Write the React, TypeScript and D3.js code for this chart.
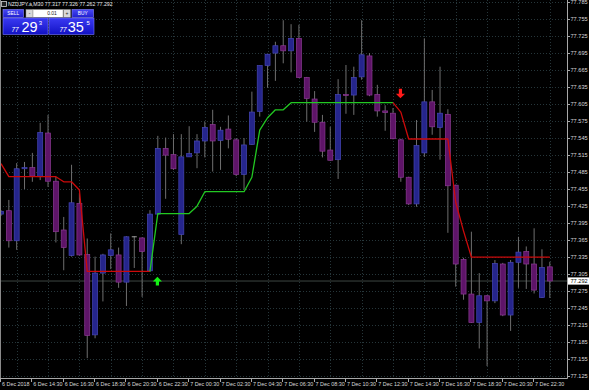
import React from 'react';
import * as d3 from 'd3';

// ---- Data (NZDJPY M30, 6 Dec 12:30 .. 7 Dec 23:30) ----
const opens = [77.410, 77.416, 77.363, 77.490, 77.492, 77.476, 77.553, 77.468, 77.382, 77.337, 77.429, 77.339, 77.197, 77.306, 77.337, 77.338, 77.290, 77.370, 77.368, 77.310, 77.410, 77.526, 77.515, 77.374, 77.511, 77.518, 77.539, 77.568, 77.540, 77.560, 77.541, 77.480, 77.533, 77.591, 77.672, 77.694, 77.707, 77.698, 77.720, 77.651, 77.613, 77.572, 77.523, 77.506, 77.621, 77.620, 77.652, 77.689, 77.621, 77.592, 77.588, 77.541, 77.475, 77.428, 77.518, 77.608, 77.563, 77.586, 77.461, 77.330, 77.269, 77.219, 77.266, 77.257, 77.322, 77.232, 77.325, 77.344, 77.322, 77.263, 77.317];
const highs = [77.417, 77.435, 77.500, 77.502, 77.518, 77.571, 77.585, 77.476, 77.405, 77.497, 77.447, 77.367, 77.335, 77.340, 77.376, 77.351, 77.371, 77.371, 77.369, 77.417, 77.548, 77.545, 77.551, 77.551, 77.565, 77.551, 77.573, 77.594, 77.564, 77.584, 77.544, 77.544, 77.626, 77.672, 77.692, 77.714, 77.752, 77.745, 77.744, 77.652, 77.627, 77.585, 77.564, 77.648, 77.673, 77.670, 77.752, 77.694, 77.638, 77.602, 77.597, 77.543, 77.476, 77.576, 77.720, 77.629, 77.670, 77.595, 77.462, 77.333, 77.379, 77.306, 77.267, 77.329, 77.324, 77.329, 77.370, 77.353, 77.385, 77.348, 77.326];
const lows = [77.407, 77.351, 77.347, 77.454, 77.467, 77.470, 77.458, 77.360, 77.311, 77.335, 77.337, 77.156, 77.191, 77.256, 77.313, 77.280, 77.248, 77.315, 77.264, 77.308, 77.409, 77.437, 77.488, 77.357, 77.511, 77.491, 77.510, 77.485, 77.488, 77.526, 77.477, 77.453, 77.532, 77.582, 77.633, 77.645, 77.676, 77.660, 77.650, 77.573, 77.555, 77.510, 77.504, 77.472, 77.587, 77.585, 77.647, 77.618, 77.582, 77.557, 77.542, 77.467, 77.426, 77.423, 77.511, 77.550, 77.506, 77.377, 77.282, 77.259, 77.218, 77.173, 77.142, 77.253, 77.230, 77.204, 77.280, 77.278, 77.270, 77.262, 77.262];
const closes = [77.415, 77.363, 77.490, 77.492, 77.477, 77.554, 77.468, 77.379, 77.351, 77.430, 77.338, 77.196, 77.306, 77.338, 77.347, 77.290, 77.370, 77.370, 77.344, 77.410, 77.526, 77.514, 77.490, 77.511, 77.517, 77.539, 77.563, 77.539, 77.558, 77.542, 77.480, 77.532, 77.590, 77.672, 77.692, 77.707, 77.698, 77.720, 77.651, 77.614, 77.572, 77.521, 77.505, 77.621, 77.619, 77.651, 77.691, 77.620, 77.592, 77.589, 77.543, 77.475, 77.428, 77.531, 77.608, 77.564, 77.588, 77.460, 77.322, 77.269, 77.219, 77.266, 77.257, 77.323, 77.232, 77.325, 77.343, 77.322, 77.276, 77.316, 77.292];

// trailing-stop indicator value and trend (1 = up / green, -1 = down / red)
const stopLine = [77.499, 77.476, 77.476, 77.476, 77.476, 77.476, 77.476, 77.476, 77.467, 77.467, 77.4525, 77.309, 77.309, 77.309, 77.309, 77.309, 77.309, 77.309, 77.309, 77.309, 77.411, 77.411, 77.411, 77.411, 77.411, 77.424, 77.4495, 77.4495, 77.4495, 77.4495, 77.4495, 77.4495, 77.475, 77.558, 77.580, 77.594, 77.594, 77.6065, 77.6065, 77.6065, 77.6065, 77.6065, 77.6065, 77.6065, 77.6065, 77.6065, 77.6065, 77.6065, 77.6065, 77.6065, 77.6065, 77.590, 77.5425, 77.5425, 77.5425, 77.5425, 77.5425, 77.5425, 77.431, 77.380, 77.334, 77.334, 77.334, 77.334, 77.334, 77.334, 77.334, 77.334, 77.334, 77.334, 77.334];
const trend = [-1, -1, -1, -1, -1, -1, -1, -1, -1, -1, -1, -1, -1, -1, -1, -1, -1, -1, -1, -1, 1, 1, 1, 1, 1, 1, 1, 1, 1, 1, 1, 1, 1, 1, 1, 1, 1, 1, 1, 1, 1, 1, 1, 1, 1, 1, 1, 1, 1, 1, 1, -1, -1, -1, -1, -1, -1, -1, -1, -1, -1, -1, -1, -1, -1, -1, -1, -1, -1, -1, -1];

const timeLabelIndex = [0, 4, 8, 12, 16, 20, 24, 28, 32, 36, 40, 44, 48, 52, 56, 60, 64, 68];
const timeLabels = ["6 Dec 2018", "6 Dec 14:30", "6 Dec 16:30", "6 Dec 18:30", "6 Dec 20:30", "6 Dec 22:30", "7 Dec 00:30", "7 Dec 02:30", "7 Dec 04:30", "7 Dec 06:30", "7 Dec 08:30", "7 Dec 10:30", "7 Dec 12:30", "7 Dec 14:30", "7 Dec 16:30", "7 Dec 18:30", "7 Dec 20:30", "7 Dec 22:30"];
const gridIndex = [2, 6, 10, 14, 18, 22, 26, 30, 34, 38, 42, 46, 50, 54, 58, 62, 66, 70];
const priceTicks = [77.785, 77.755, 77.725, 77.695, 77.665, 77.635, 77.605, 77.575, 77.545, 77.515, 77.485, 77.455, 77.425, 77.395, 77.365, 77.335, 77.305, 77.275, 77.245, 77.215, 77.185, 77.155, 77.125];
const bidPrice = 77.292;
const headerText = "NZDJPY.a,M30  77.317 77.326 77.262 77.292";
const sellParts = ["77", "29", "3"];
const buyParts = ["77", "35", "5"];
const lotText = "0.01";

const FONT = "'Liberation Sans', Arial, sans-serif";

export default function App() {
  const W = 589, H = 390;
  const plotRight = 567, plotBottom = 378;
  const x = d3.scaleLinear().domain([0, 70]).range([1, 549.8]);
  const y = d3.scaleLinear().domain([77.125, 77.785]).range([375.7, 1.5]);

  // indicator runs
  const runs: { color: number; idx: number[] }[] = [];
  for (let i = 1; i < stopLine.length; i++) {
    const c = trend[i];
    const last = runs[runs.length - 1];
    if (!last || last.color !== c) runs.push({ color: c, idx: [i - 1, i] });
    else last.idx.push(i);
  }
  const line = d3.line<number>().x((i) => x(i)).y((i) => y(stopLine[i]));

  // signal arrows (where trend flips)
  const arrows: { i: number; dir: number }[] = [];
  for (let i = 1; i < trend.length; i++) if (trend[i] !== trend[i - 1]) arrows.push({ i, dir: trend[i] });

  const bw = 5;

  return (
    <svg width={W} height={H} style={{ position: 'absolute', left: 0, top: 0, background: '#000' }}
      xmlns="http://www.w3.org/2000/svg">
      <defs>
        <linearGradient id="bigbox" x1="0" y1="0" x2="0" y2="1">
          <stop offset="0" stopColor="#3a3af2" />
          <stop offset="1" stopColor="#1212c4" />
        </linearGradient>
        <linearGradient id="smallbtn" x1="0" y1="0" x2="0" y2="1">
          <stop offset="0" stopColor="#4848f4" />
          <stop offset="1" stopColor="#2020d0" />
        </linearGradient>
        <clipPath id="plot"><rect x={0} y={0} width={plotRight} height={plotBottom} /></clipPath>
      </defs>
      <rect x={0} y={0} width={W} height={H} fill="#000" />

      {/* grid */}
      <g stroke="#26363a" strokeWidth={1} strokeDasharray="1 2">
        {priceTicks.map((p) => (
          <line key={'h' + p} x1={0} x2={plotRight} y1={Math.round(y(p)) + 0.5} y2={Math.round(y(p)) + 0.5} />
        ))}
        {gridIndex.map((i) => (
          <line key={'v' + i} x1={Math.round(x(i)) + 0.5} x2={Math.round(x(i)) + 0.5} y1={0} y2={plotBottom} />
        ))}
      </g>

      {/* bid line */}
      <line x1={0} x2={plotRight} y1={y(bidPrice)} y2={y(bidPrice)} stroke="#3c4642" strokeWidth={1} />

      <g clipPath="url(#plot)">
        {/* candles */}
        {opens.map((o, i) => {
          const c = closes[i];
          const cx = x(i);
          const up = c > o;
          const doji = c === o;
          const top = y(Math.max(o, c));
          const h = Math.max(1, y(Math.min(o, c)) - top);
          return (
            <g key={'c' + i}>
              <line x1={cx} x2={cx} y1={y(highs[i])} y2={y(lows[i])} stroke="#6e6e6e" strokeWidth={1} />
              {doji ? (
                <line x1={cx - bw / 2} x2={cx + bw / 2} y1={top} y2={top} stroke="#a0a0a0" strokeWidth={1} />
              ) : (
                <rect x={cx - bw / 2} y={top} width={bw} height={h}
                  fill={up ? '#25258c' : '#5e1468'}
                  stroke={up ? '#4646b4' : '#8a3a92'} strokeWidth={0.7} />
              )}
            </g>
          );
        })}

        {/* indicator line */}
        {runs.map((r, k) => (
          <path key={'r' + k} d={line(r.idx) || ''} fill="none"
            stroke={r.color > 0 ? '#22c822' : '#cc0a0a'} strokeWidth={1.3} strokeLinejoin="round" />
        ))}

        {/* arrows */}
        {arrows.map((a) => {
          const cx = x(a.i) - 0.4;
          if (a.dir > 0) {
            const t = y(stopLine[a.i - 1]) + 5.4;
            const d = `M${cx},${t} L${cx + 4.6},${t + 4.6} L${cx + 1.6},${t + 4.6} L${cx + 1.6},${t + 8.6} L${cx - 1.6},${t + 8.6} L${cx - 1.6},${t + 4.6} L${cx - 4.6},${t + 4.6} Z`;
            return <path key={'a' + a.i} d={d} fill="#14f014" />;
          }
          const b = y(stopLine[a.i - 1]) - 4.4;
          const d = `M${cx},${b} L${cx + 4.6},${b - 4.6} L${cx + 1.6},${b - 4.6} L${cx + 1.6},${b - 9.6} L${cx - 1.6},${b - 9.6} L${cx - 1.6},${b - 4.6} L${cx - 4.6},${b - 4.6} Z`;
          return <path key={'a' + a.i} d={d} fill="#ff1a1a" />;
        })}
      </g>

      {/* frame */}
      <line x1={0.5} x2={0.5} y1={0} y2={plotBottom} stroke="#8a8a8a" strokeWidth={1} />
      <line x1={plotRight + 0.5} x2={plotRight + 0.5} y1={0} y2={plotBottom + 0.5} stroke="#a8a8a8" strokeWidth={1} />
      <line x1={0} x2={plotRight + 0.5} y1={plotBottom + 0.5} y2={plotBottom + 0.5} stroke="#a8a8a8" strokeWidth={1} />

      {/* price axis */}
      <g fontFamily={FONT} fontSize={5.6} fill="#d8d8d8">
        {priceTicks.map((p) => (
          <g key={'p' + p}>
            <line x1={plotRight} x2={plotRight + 3} y1={Math.round(y(p)) + 0.5} y2={Math.round(y(p)) + 0.5} stroke="#a8a8a8" />
            <text x={plotRight + 3.5} y={y(p)} dominantBaseline="central">{p.toFixed(3)}</text>
          </g>
        ))}
      </g>
      {/* bid label */}
      <rect x={plotRight + 1} y={y(bidPrice) - 3.6} width={21} height={7.2} fill="#ffffff" />
      <text x={plotRight + 3.5} y={y(bidPrice)} dominantBaseline="central" fontFamily={FONT} fontSize={5.6} fill="#000">{bidPrice.toFixed(3)}</text>

      {/* time axis */}
      <g fontFamily={FONT} fontSize={5.4} fill="#d8d8d8">
        {timeLabelIndex.map((i, k) => (
          <g key={'t' + i}>
            <line x1={Math.round(x(i)) - 0.5} x2={Math.round(x(i)) - 0.5} y1={plotBottom} y2={plotBottom + 4} stroke="#a8a8a8" />
            <text x={x(i) + 1} y={385.5}>{timeLabels[k]}</text>
          </g>
        ))}
      </g>

      {/* header */}
      <rect x={1.5} y={1.5} width={5} height={5} fill="#202020" stroke="#d0d0d0" strokeWidth={0.8} />
      <text x={8} y={6.3} fontFamily={FONT} fontSize={5.2} fill="#e8e8e8">{headerText}</text>

      {/* one-click trading panel */}
      <g fontFamily={FONT}>
        <rect x={3} y={9.5} width={20.5} height={7.8} fill="url(#smallbtn)" stroke="#8888ff" strokeWidth={0.6} />
        <text x={13.2} y={15.2} textAnchor="middle" fontSize={4.8} fill="#fff">SELL</text>
        <rect x={26} y={9.5} width={7} height={7.8} fill="#d8d8d8" stroke="#909090" strokeWidth={0.5} />
        <text x={29.5} y={15.2} textAnchor="middle" fontSize={5} fill="#202020">-</text>
        <rect x={33} y={9.5} width={30} height={7.8} fill="#ffffff" stroke="#909090" strokeWidth={0.5} />
        <text x={52} y={15.4} textAnchor="middle" fontSize={5} fill="#202020">{lotText}</text>
        <rect x={63.5} y={9.5} width={7} height={7.8} fill="#d8d8d8" stroke="#909090" strokeWidth={0.5} />
        <text x={67} y={15.4} textAnchor="middle" fontSize={5} fill="#202020">+</text>
        <rect x={72} y={9.5} width={21.5} height={7.8} fill="url(#smallbtn)" stroke="#8888ff" strokeWidth={0.6} />
        <text x={82.7} y={15.2} textAnchor="middle" fontSize={4.8} fill="#fff">BUY</text>

        <rect x={3} y={18} width={45} height={16.5} fill="url(#bigbox)" stroke="#7a7aff" strokeWidth={0.6} />
        <text x={11.5} y={31.5} fontSize={6.5} fontStyle="italic" fill="#fff">{sellParts[0]}</text>
        <text x={21.5} y={31.8} fontSize={14.5} fill="#fff">{sellParts[1]}</text>
        <text x={38.8} y={25} fontSize={6} fill="#fff">{sellParts[2]}</text>

        <rect x={49} y={18} width={45} height={16.5} fill="url(#bigbox)" stroke="#7a7aff" strokeWidth={0.6} />
        <text x={59.5} y={31.5} fontSize={6.5} fontStyle="italic" fill="#fff">{buyParts[0]}</text>
        <text x={67.8} y={31.8} fontSize={14.5} fill="#fff">{buyParts[1]}</text>
        <text x={86.5} y={25} fontSize={6} fill="#fff">{buyParts[2]}</text>
      </g>
    </svg>
  );
}
